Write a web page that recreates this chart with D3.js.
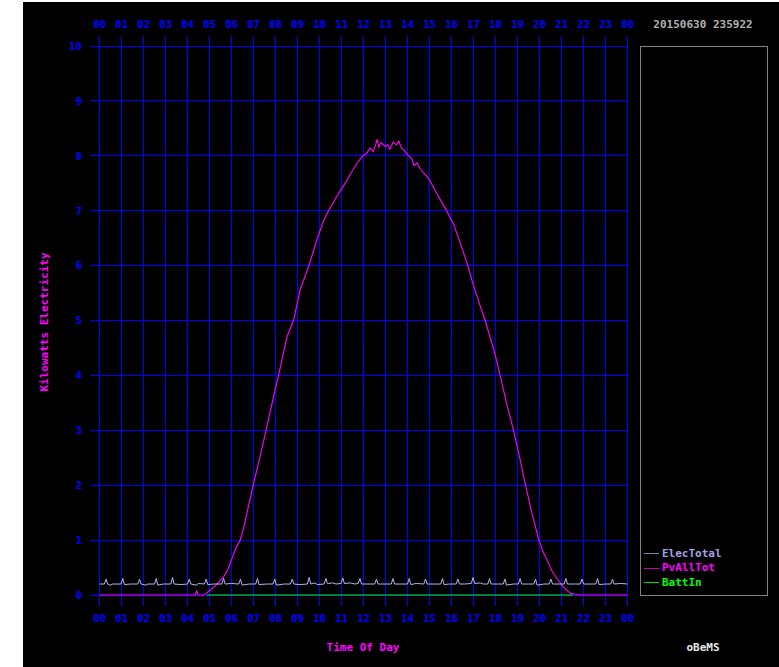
<!DOCTYPE html>
<html lang="en">
<head>
    <meta charset="UTF-8">
    <title> oBeMS electricity </title>
    <script type="text/javascript" src="https://cdn.jsdelivr.net/npm/d3@7/dist/d3.min.js"></script>
    <style type="text/css">
        html, body { margin: 0; padding: 0; background: #fff; overflow: hidden; }
        svg { position: absolute; left: 0; top: 0; }
        text { font-family: "DejaVu Sans Mono", monospace; font-size: 11px; font-weight: bold; }
        .grid { shape-rendering: crispEdges; }
    </style>
</head>
<body>
    <script type="text/javascript">
        //Width and height
        var w = 779;
        var h = 667;

        //Tick labels
        var hourLabels = ["00","01","02","03","04","05","06","07","08","09","10","11",
            "12","13","14","15","16","17","18","19","20","21","22","23","00"];
        var kwTicks = [0, 1, 2, 3, 4, 5, 6, 7, 8, 9, 10];
        var seriesNames = ["ElecTotal", "PvAllTot", "BattIn"];
        var stamp = "20150630 235922";

        //PvAllTot [hour, kW]
        var pvAllTot = [
            [0, 0], [4.35, 0], [4.42, 0.07], [4.48, 0], [4.75, 0], [4.85, 0.03], [5.0, 0.08],
            [5.3, 0.18], [5.64, 0.33], [5.85, 0.48], [6.0, 0.64], [6.2, 0.85], [6.4, 1.0],
            [6.55, 1.22], [6.7, 1.49], [7.0, 2.03], [7.3, 2.52], [7.61, 3.07], [7.91, 3.61],
            [8.14, 4.0], [8.52, 4.7], [8.82, 5.0], [9.12, 5.56], [9.52, 6.0], [9.88, 6.47],
            [10.15, 6.78], [10.41, 7.0], [10.7, 7.2], [10.94, 7.36], [11.2, 7.52], [11.39, 7.66],
            [11.7, 7.86], [11.97, 8.0], [12.15, 8.05], [12.3, 8.14], [12.45, 8.08], [12.55, 8.2],
            [12.62, 8.3], [12.7, 8.16], [12.8, 8.24], [12.99, 8.17], [13.1, 8.2], [13.2, 8.12],
            [13.35, 8.25], [13.5, 8.2], [13.6, 8.27], [13.74, 8.13], [13.85, 8.1], [14.05, 8.0],
            [14.2, 7.95], [14.3, 7.82], [14.43, 7.87], [14.6, 7.75], [14.97, 7.58], [15.35, 7.3],
            [15.75, 7.02], [16.1, 6.75], [16.4, 6.41], [16.7, 6.05], [16.97, 5.68], [17.25, 5.33],
            [17.53, 5.0], [17.97, 4.4], [18.21, 4.0], [18.5, 3.5], [18.82, 3.0], [19.1, 2.5],
            [19.35, 2.03], [19.65, 1.5], [19.97, 1.0], [20.15, 0.8], [20.34, 0.64], [20.55, 0.45],
            [20.79, 0.3], [21.1, 0.14], [21.4, 0.03], [21.8, 0], [24, 0]
        ];

        //ElecTotal [hour, kW]
        var elecTotal = [
            [0, 0.2], [0.22, 0.2], [0.30, 0.29], [0.37, 0.2], [0.5, 0.18], [0.6, 0.2],
            [0.98, 0.2], [1.06, 0.3], [1.13, 0.19], [1.4, 0.2],
            [1.74, 0.2], [1.82, 0.29], [1.89, 0.2], [2.1, 0.18], [2.2, 0.2],
            [2.5, 0.2], [2.58, 0.3], [2.65, 0.18], [2.9, 0.2],
            [3.24, 0.2], [3.32, 0.32], [3.39, 0.2], [3.7, 0.19],
            [4.0, 0.2], [4.08, 0.29], [4.15, 0.2], [4.4, 0.18], [4.5, 0.21],
            [4.77, 0.2], [4.85, 0.29], [4.92, 0.19], [5.2, 0.2],
            [5.56, 0.2], [5.64, 0.3], [5.71, 0.2], [6.0, 0.21],
            [6.33, 0.2], [6.41, 0.29], [6.48, 0.18], [6.8, 0.2],
            [7.1, 0.2], [7.18, 0.3], [7.25, 0.19], [7.6, 0.2],
            [7.89, 0.2], [7.97, 0.29], [8.04, 0.18], [8.4, 0.2],
            [8.68, 0.2], [8.76, 0.29], [8.83, 0.2], [9.1, 0.19],
            [9.45, 0.2], [9.53, 0.32], [9.6, 0.2], [9.8, 0.22], [9.9, 0.19],
            [10.21, 0.2], [10.29, 0.3], [10.36, 0.21], [10.6, 0.22], [10.75, 0.2],
            [10.98, 0.21], [11.06, 0.31], [11.13, 0.21], [11.4, 0.22], [11.6, 0.2],
            [11.76, 0.21], [11.84, 0.3], [11.91, 0.2], [12.2, 0.2],
            [12.51, 0.2], [12.59, 0.29], [12.66, 0.2], [13.0, 0.2],
            [13.26, 0.2], [13.34, 0.3], [13.41, 0.2], [13.7, 0.2],
            [14.0, 0.2], [14.08, 0.3], [14.15, 0.19], [14.4, 0.21],
            [14.74, 0.2], [14.82, 0.29], [14.89, 0.2], [15.2, 0.2],
            [15.51, 0.2], [15.59, 0.3], [15.66, 0.19], [15.9, 0.2],
            [16.21, 0.2], [16.29, 0.29], [16.36, 0.2], [16.6, 0.2],
            [16.9, 0.21], [16.98, 0.32], [17.05, 0.21], [17.3, 0.22], [17.45, 0.2],
            [17.65, 0.2], [17.73, 0.3], [17.8, 0.2], [18.1, 0.2],
            [18.35, 0.2], [18.43, 0.29], [18.5, 0.18], [18.8, 0.2],
            [19.04, 0.2], [19.12, 0.3], [19.19, 0.2], [19.5, 0.2],
            [19.74, 0.2], [19.82, 0.29], [19.89, 0.18], [20.2, 0.2],
            [20.44, 0.2], [20.52, 0.29], [20.59, 0.2], [20.9, 0.2],
            [21.12, 0.2], [21.2, 0.3], [21.27, 0.2], [21.6, 0.2],
            [21.85, 0.2], [21.93, 0.29], [22.0, 0.2], [22.3, 0.2],
            [22.56, 0.2], [22.64, 0.3], [22.71, 0.19], [23.0, 0.2],
            [23.24, 0.2], [23.32, 0.29], [23.39, 0.2], [23.7, 0.21], [24, 0.2]
        ];

        //BattIn [hour, kW]
        var battIn = [[4.88, 0], [21.52, 0]];

        var xScale = d3.scaleLinear()
            .domain([0, 24])
            .range([99.5, 627.5]);

        var yScale = d3.scaleLinear()
            .domain([0, 10])
            .range([595, 46]);

        //Create SVG element
        var svg = d3.select("body")
            .append("svg")
            .attr("width", w)
            .attr("height", h);

        //Black panel
        svg.append("rect")
            .attr("class", "grid")
            .attr("x", 23)
            .attr("y", 2)
            .attr("width", w - 23)
            .attr("height", h - 2)
            .attr("fill", "#000");

        var px = function(v) { return Math.floor(v) + 0.5; };

        //Vertical grid lines
        svg.selectAll("line.vgrid")
            .data(hourLabels)
            .enter()
            .append("line")
            .attr("class", "vgrid grid")
            .attr("x1", function(d, i) { return px(xScale(i)); })
            .attr("x2", function(d, i) { return px(xScale(i)); })
            .attr("y1", 36)
            .attr("y2", 606)
            .attr("stroke", "#0000ff")
            .attr("stroke-width", 1);

        //Horizontal grid lines
        svg.selectAll("line.hgrid")
            .data(kwTicks)
            .enter()
            .append("line")
            .attr("class", "hgrid grid")
            .attr("x1", 90)
            .attr("x2", px(xScale(24)) + 0.5)
            .attr("y1", function(d) { return px(yScale(d)); })
            .attr("y2", function(d) { return px(yScale(d)); })
            .attr("stroke", "#0000ff")
            .attr("stroke-width", 1);

        //Hour labels top and bottom
        [24, 618].forEach(function(yy) {
            svg.selectAll(null)
                .data(hourLabels)
                .enter()
                .append("text")
                .attr("x", function(d, i) { return xScale(i); })
                .attr("y", yy)
                .attr("dy", "0.35em")
                .attr("text-anchor", "middle")
                .attr("fill", "#0000ff")
                .text(function(d) { return d; });
        });

        //kW labels
        svg.selectAll("text.kw")
            .data(kwTicks)
            .enter()
            .append("text")
            .attr("class", "kw")
            .attr("x", 82)
            .attr("y", function(d) { return yScale(d); })
            .attr("dy", "0.35em")
            .attr("text-anchor", "end")
            .attr("fill", "#0000ff")
            .text(function(d) { return d; });

        //Series lines
        var line = d3.line()
            .x(function(d) { return xScale(d[0]); })
            .y(function(d) { return yScale(d[1]); });

        var seriesColors = ["#b4b4f0", "#ff00ff", "#00ff00"];

        svg.append("path")
            .datum(pvAllTot)
            .attr("d", line)
            .attr("fill", "none")
            .attr("stroke", seriesColors[1])
            .attr("stroke-width", 1.1);

        svg.append("path")
            .datum(battIn)
            .attr("d", line)
            .attr("fill", "none")
            .attr("stroke", seriesColors[2])
            .attr("stroke-width", 1.2);

        svg.append("path")
            .datum(elecTotal)
            .attr("d", line)
            .attr("fill", "none")
            .attr("stroke", seriesColors[0])
            .attr("stroke-width", 1);

        //Legend box
        svg.append("rect")
            .attr("class", "grid")
            .attr("x", 640.5)
            .attr("y", 46.5)
            .attr("width", 127)
            .attr("height", 549)
            .attr("fill", "none")
            .attr("stroke", "#808080");

        var legendColors = ["#a0a0e0", "#ff00ff", "#00ff00"];
        var legendLines = ["#8080b0", "#c000c0", "#00e000"];

        var legend = svg.selectAll("g.legend")
            .data(seriesNames)
            .enter()
            .append("g")
            .attr("class", "legend")
            .attr("transform", function(d, i) {
                return "translate(0," + (553 + i * 14.5) + ")";
            });

        legend.append("line")
            .attr("class", "grid")
            .attr("x1", 644)
            .attr("x2", 659)
            .attr("y1", 0.5)
            .attr("y2", 0.5)
            .attr("stroke", function(d, i) { return legendLines[i]; });

        legend.append("text")
            .attr("x", 662)
            .attr("y", 0)
            .attr("dy", "0.35em")
            .attr("fill", function(d, i) { return legendColors[i]; })
            .text(function(d) { return d; });

        //Date stamp
        svg.append("text")
            .attr("x", 703)
            .attr("y", 24)
            .attr("dy", "0.35em")
            .attr("text-anchor", "middle")
            .attr("fill", "#b0b0b0")
            .text(stamp);

        //Axis titles
        svg.append("text")
            .attr("x", 363)
            .attr("y", 647)
            .attr("dy", "0.35em")
            .attr("text-anchor", "middle")
            .attr("fill", "#ff00ff")
            .text("Time Of Day");

        svg.append("text")
            .attr("transform", "translate(44,322) rotate(-90)")
            .attr("dy", "0.35em")
            .attr("text-anchor", "middle")
            .attr("fill", "#ff00ff")
            .text("Kilowatts Electricity");

        svg.append("text")
            .attr("x", 703)
            .attr("y", 647)
            .attr("dy", "0.35em")
            .attr("text-anchor", "middle")
            .attr("fill", "#e8e8e8")
            .text("oBeMS");
    </script>
</body>
</html>
